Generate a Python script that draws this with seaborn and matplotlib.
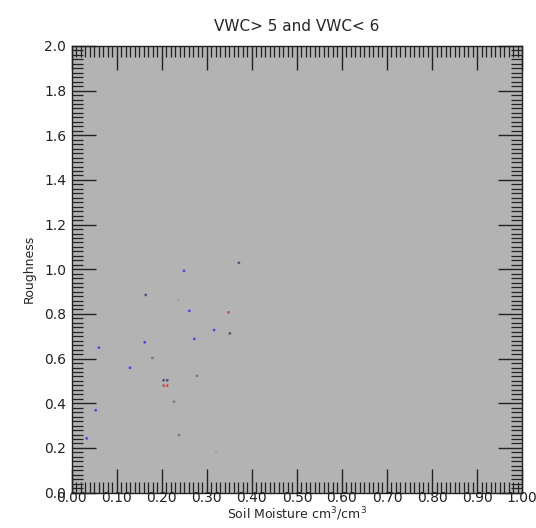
import pandas as pd
import matplotlib.pyplot as plt
from matplotlib.ticker import MultipleLocator, FormatStrFormatter
import seaborn as sns

# values
soil_moisture = [0.371, 0.249, 0.164, 0.261, 0.348, 0.316, 0.351, 0.272, 0.162, 0.060,
                 0.179, 0.129, 0.278, 0.204, 0.212, 0.204, 0.212, 0.227, 0.053, 0.238,
                 0.033, 0.321, 0.236]
roughness = [1.029, 0.993, 0.885, 0.814, 0.807, 0.728, 0.713, 0.688, 0.673, 0.649,
             0.603, 0.559, 0.523, 0.503, 0.503, 0.479, 0.479, 0.407, 0.369, 0.258,
             0.243, 0.183, 0.862]
group = ['dark', 'blue', 'dark', 'blue', 'red', 'blue', 'dark', 'blue', 'blue', 'blue',
         'gray', 'blue', 'gray', 'dark', 'dark', 'red', 'red', 'gray', 'blue', 'gray',
         'blue', 'light', 'light']

palette = {'dark': '#55557a', 'blue': '#4a4ae6', 'red': '#c05050',
           'gray': '#7a7a8a', 'light': '#a0a0a8'}

df = pd.DataFrame({'sm': soil_moisture, 'rough': roughness, 'grp': group})

sns.set_style('ticks')
plt.rcParams['font.family'] = ['DejaVu Sans']
plt.rcParams.update({
    'xtick.direction': 'in', 'ytick.direction': 'in',
    'xtick.top': True, 'ytick.right': True,
    'xtick.minor.visible': True, 'ytick.minor.visible': True,
    'xtick.major.size': 17, 'ytick.major.size': 17,
    'xtick.minor.size': 8, 'ytick.minor.size': 8,
    'xtick.major.width': 1, 'ytick.major.width': 1,
    'xtick.minor.width': 0.9, 'ytick.minor.width': 0.9,
    'xtick.color': '#222222', 'ytick.color': '#222222',
})

fig = plt.figure(figsize=(5.36, 5.28), dpi=100)
ax = fig.add_axes([0.134, 0.067, 0.840, 0.846])
ax.set_facecolor('#b3b3b3')

sns.scatterplot(data=df, x='sm', y='rough', hue='grp', palette=palette,
                s=4, linewidth=0, legend=False, ax=ax)

ax.set_xlim(0, 1)
ax.set_ylim(0, 2)
ax.xaxis.set_major_locator(MultipleLocator(0.1))
ax.xaxis.set_minor_locator(MultipleLocator(0.01))
ax.yaxis.set_major_locator(MultipleLocator(0.2))
ax.yaxis.set_minor_locator(MultipleLocator(0.02))
ax.xaxis.set_major_formatter(FormatStrFormatter('%.2f'))
ax.yaxis.set_major_formatter(FormatStrFormatter('%.1f'))

ax.tick_params(which='both', direction='in', top=True, right=True,
               color='#222222', labelsize=10)
ax.tick_params(which='major', length=17, width=1)
ax.tick_params(which='minor', length=8, width=0.9)
ax.tick_params(axis='x', which='major', pad=-1)
ax.tick_params(axis='y', which='major', pad=4)
for sp in ax.spines.values():
    sp.set_color('#222222')
    sp.set_linewidth(1)

ax.set_title('VWC> 5 and VWC< 6', fontsize=11, pad=11)
ax.set_xlabel('Soil Moisture cm$^3$/cm$^3$', fontsize=9, labelpad=0)
ax.set_ylabel('Roughness', fontsize=9, labelpad=6)

fig.savefig('out.png', dpi=100)
